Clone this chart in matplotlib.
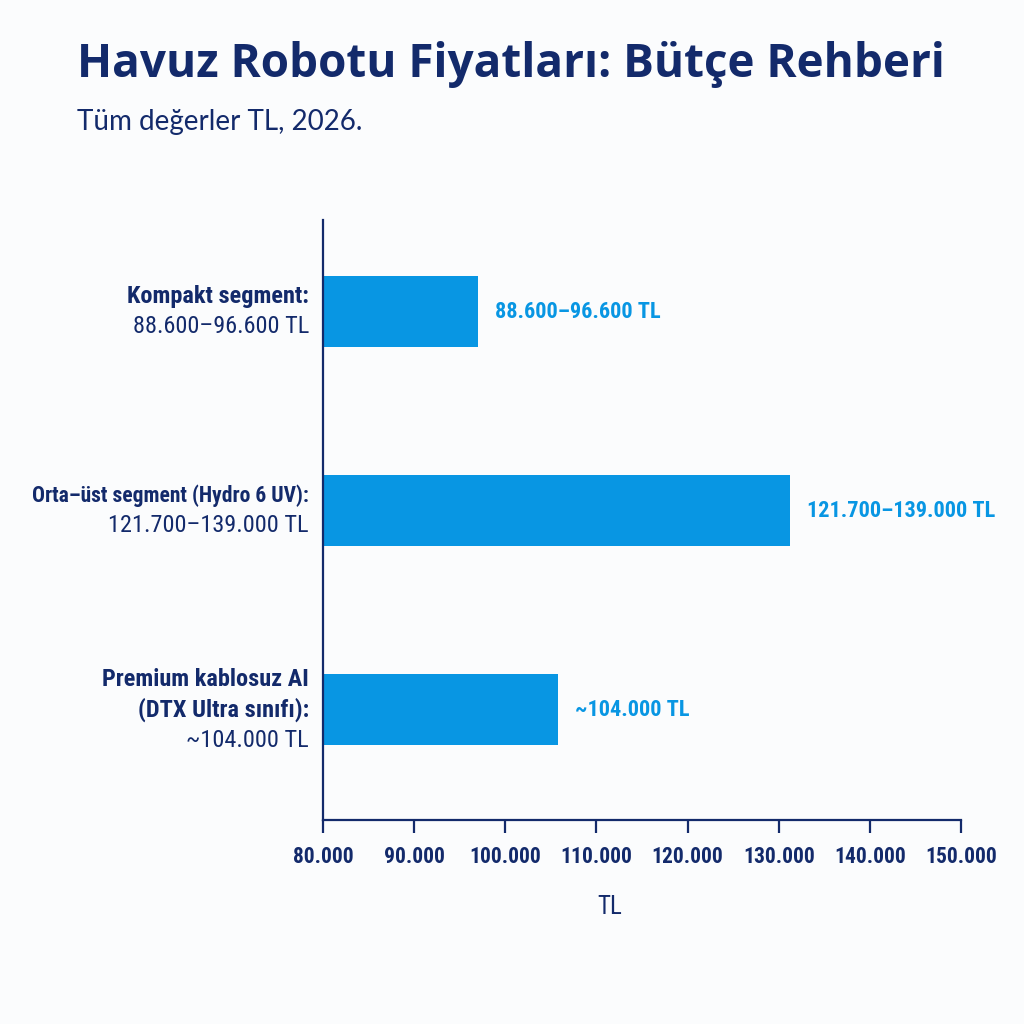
import matplotlib
matplotlib.use("Agg")
import matplotlib.pyplot as plt
from matplotlib import font_manager as fm
from matplotlib.ticker import FuncFormatter
import matplotlib.transforms as mtransforms

# ---- data ----
cat_bold_lines = [["Kompakt segment:"],
                  ["Orta–üst segment (Hydro 6 UV):"],
                  ["Premium kablosuz AI", "(DTX Ultra sınıfı):"]]
cat_range_lines = ["88.600–96.600 TL", "121.700–139.000 TL", "~104.000 TL"]
value_labels = ["88.600–96.600 TL", "121.700–139.000 TL", "~104.000 TL"]
bar_values = [97000, 131200, 105800]
x_ticks = [80000, 90000, 100000, 110000, 120000, 130000, 140000, 150000]
title = "Havuz Robotu Fiyatları: Bütçe Rehberi"
subtitle = "Tüm değerler TL, 2026."
x_label = "TL"

# per-category bold-line size (style only)
cat_bold_sizes = [17.5, 15.5, 17.5]


def find_condensed(bold):
    prefs = ["Roboto Condensed", "Noto Sans", "Open Sans", "DejaVu Sans", "Liberation Sans Narrow"]
    cands = []
    for f in fm.fontManager.ttflist:
        st = str(f.stretch).lower()
        nm = f.name
        isc = ("condensed" in st) or ("Condensed" in nm) or ("Narrow" in nm) or \
              ("condensed" in f.fname.lower())
        if not isc or "extra" in st or "ultra" in st or "extracondensed" in f.fname.lower() \
                or "semicondensed" in f.fname.lower():
            continue
        if f.style != "normal":
            continue
        w = f.weight if isinstance(f.weight, int) else (700 if "bold" in str(f.weight) else 400)
        if bold and not (600 <= w <= 700):
            continue
        if not bold and not (400 <= w <= 500):
            continue
        rank = next((i for i, p in enumerate(prefs) if p in nm), len(prefs))
        cands.append((rank, abs(w - (700 if bold else 400)), f.fname))
    if cands:
        cands.sort()
        return fm.FontProperties(fname=cands[0][2]), True
    return fm.FontProperties(family="Roboto", weight="bold" if bold else "normal"), False


fp_b, cond = find_condensed(True)
fp_r, _ = find_condensed(False)
scale = 1.0 if cond else 0.88

names = {f.name for f in fm.fontManager.ttflist}
head = "Open Sans" if "Open Sans" in names else "DejaVu Sans"
sub = "Lato" if "Lato" in names else "DejaVu Sans"

NAVY = "#132a6b"
BLUE = "#0896e3"
BG = "#fbfcfd"


def fp(base, size):
    p = base.copy()
    p.set_size(size * scale)
    return p


fig = plt.figure(figsize=(10.24, 10.24), dpi=100, facecolor=BG)
ax = fig.add_axes([323/1024, 1-820/1024, 638/1024, 600/1024])
ax.set_facecolor(BG)

ypos = list(range(len(bar_values)))
ax.barh(ypos, bar_values, height=0.357, color=BLUE)
ax.set_xlim(x_ticks[0], x_ticks[-1])
ax.set_ylim(2.554, -0.46)

for s in ["top", "right"]:
    ax.spines[s].set_visible(False)
for s in ["left", "bottom"]:
    ax.spines[s].set_color(NAVY)
    ax.spines[s].set_linewidth(1.6)

ax.set_yticks([])
ax.set_xticks(x_ticks)
ax.xaxis.set_major_formatter(FuncFormatter(lambda v, p: f"{int(v):,}".replace(",", ".")))
ax.tick_params(axis="x", direction="out", length=9, width=1.6, color=NAVY,
               pad=10, labelcolor=NAVY)
for lab in ax.get_xticklabels():
    lab.set_fontproperties(fp(fp_b, 15.5))

# value labels
for y, v, t in zip(ypos, bar_values, value_labels):
    trans = mtransforms.offset_copy(ax.transData, fig=fig, x=17, y=0, units="dots")
    ax.text(v, y, t, transform=trans, ha="left", va="center", color=BLUE,
            fontproperties=fp(fp_b, 16))

# category labels (multi-line, mixed weight)
ytrans = ax.get_yaxis_transform()
line_h = 30.5
for y, blines, rl, bs in zip(ypos, cat_bold_lines, cat_range_lines, cat_bold_sizes):
    lines = [(b, fp_b, bs) for b in blines] + [(rl, fp_r, 17.5)]
    n = len(lines)
    for i, (txt, f, sz) in enumerate(lines):
        off = ((n - 1) / 2 - i) * line_h
        trans = mtransforms.offset_copy(ytrans, fig=fig, x=-14, y=off, units="dots")
        ax.text(0, y, txt, transform=trans, ha="right", va="center", color=NAVY,
                fontproperties=fp(f, sz))

fig.text(610/1024, 1-907/1024, x_label, ha="center", va="center", color=NAVY,
         fontproperties=fp(fp_r, 18))

fig.text(77/1024, 1-77/1024, title, ha="left", va="baseline", color=NAVY,
         fontsize=33, fontweight="bold", fontfamily=head)
fig.text(77/1024, 1-130/1024, subtitle, ha="left", va="baseline", color=NAVY,
         fontsize=20, fontfamily=sub)

fig.savefig("out.png", dpi=100, facecolor=BG)
